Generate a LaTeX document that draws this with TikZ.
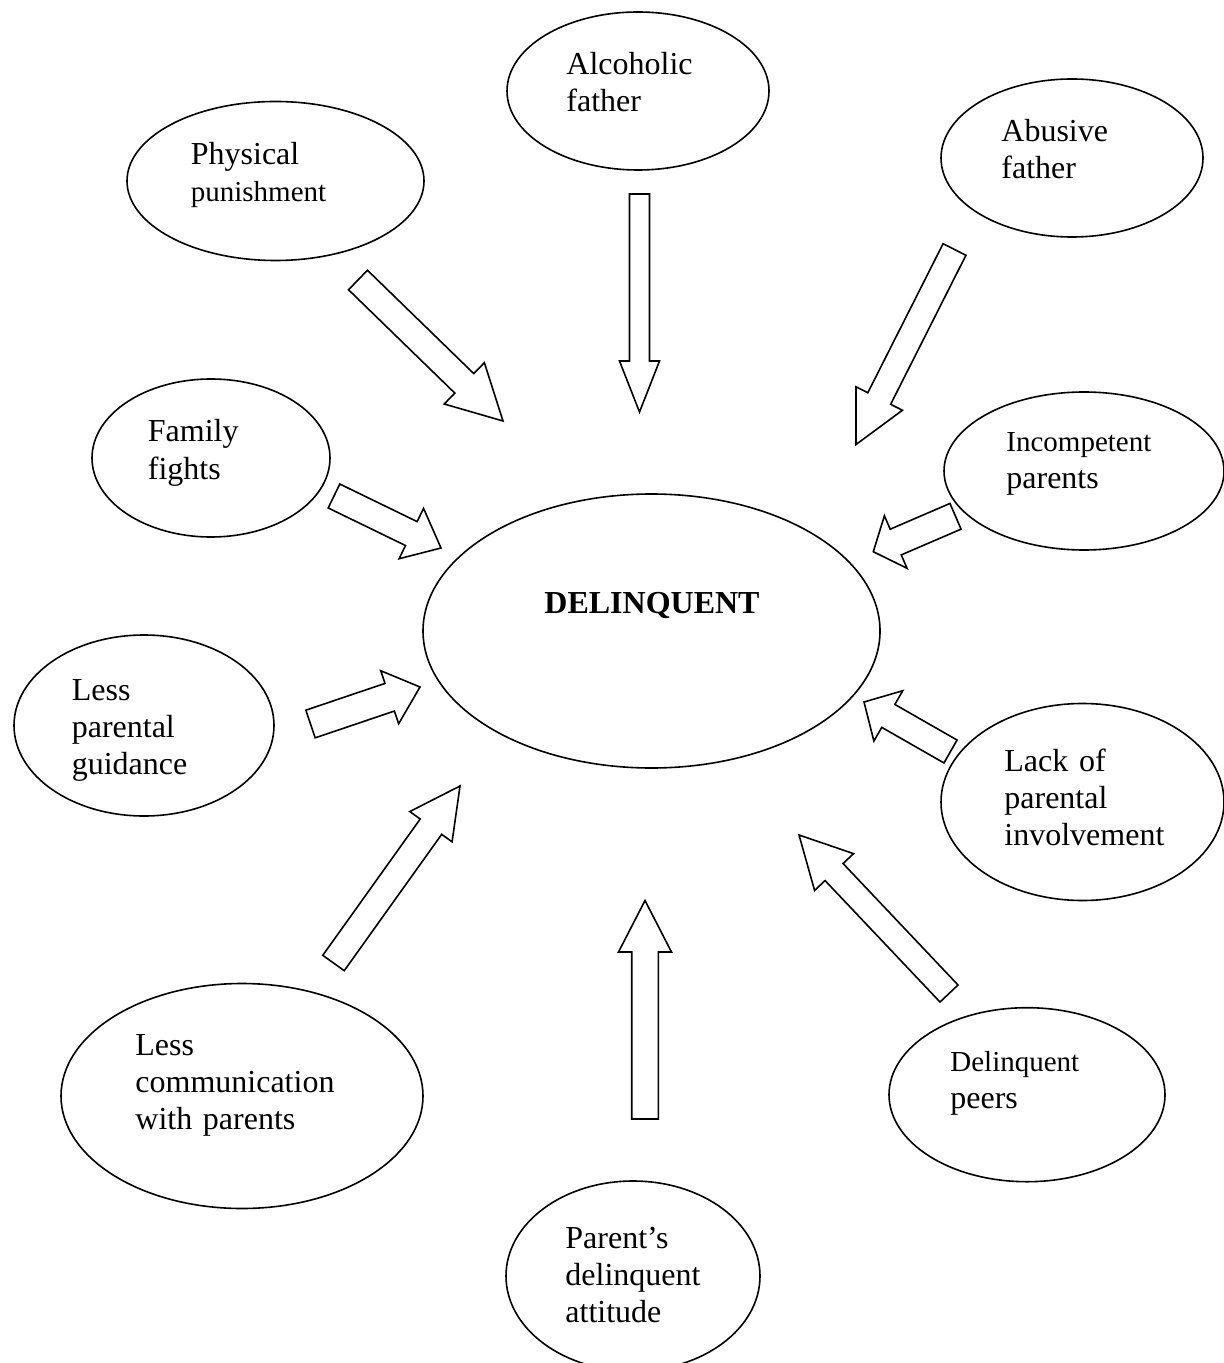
\documentclass[tikz,border=0pt]{standalone}
\usepackage{fontspec}
\setmainfont{Liberation Serif}
\usetikzlibrary{shapes.geometric,calc}

\tikzset{
  bubble/.style={draw, ellipse, line width=0.8pt, inner sep=0pt},
  bubbletext/.style={anchor=base west, align=left, text width=8cm, inner sep=0pt,
    font=\fontsize{16}{18.5}\selectfont},
  arrowbody/.style={draw, line width=0.8pt, line join=miter, fill=white},
}
\newcommand{\smalltext}{\fontsize{14.5}{17.5}\selectfont}
% hollow block arrow: tail, tip, shaft half width, head half width, head length
\newcommand{\blockarrow}[5]{%
  \coordinate (ba-c) at ($(#2)!#5!(#1)$);
  \draw[arrowbody] ($(#1)!#3!90:(#2)$) -- ($(ba-c)!#3!-90:(#1)$)
    -- ($(ba-c)!#4!-90:(#1)$) -- (#2) -- ($(ba-c)!#4!90:(#1)$)
    -- ($(ba-c)!#3!90:(#1)$) -- ($(#1)!#3!-90:(#2)$) -- cycle;}

\begin{document}
\begin{tikzpicture}[x=0.5pt, y=-0.5pt]
  \useasboundingbox (0,0) rectangle (1224,1363);

% centre
  \node [bubble, minimum width=228.5pt, minimum height=137pt] (delinq) at (651.5,631) {};
  \node [bubbletext] (delinq-t) at (544,613.3) {\textbf{DELINQUENT}};

% causes
  \node [bubble, minimum width=131pt, minimum height=79pt] (alc) at (638,91) {};
  \node [bubble, minimum width=148.5pt, minimum height=79.5pt] (phys) at (275.5,181) {};
  \node [bubble, minimum width=131pt, minimum height=79pt] (abus) at (1072,158) {};
  \node [bubble, minimum width=119pt, minimum height=79pt] (fam) at (211,458) {};
  \node [bubble, minimum width=140pt, minimum height=79pt] (incomp) at (1084,471) {};
  \node [bubble, minimum width=130pt, minimum height=90.5pt] (guid) at (144,725.5) {};
  \node [bubble, minimum width=141.5pt, minimum height=98.5pt] (lack) at (1082.5,802) {};
  \node [bubble, minimum width=181pt, minimum height=112.5pt] (comm) at (242,1096) {};
  \node [bubble, minimum width=138pt, minimum height=87pt] (peers) at (1027,1094.7) {};
  \node [bubble, minimum width=127pt, minimum height=95pt] (attit) at (633,1276) {};

  \node [bubbletext] (alc-t) at (566,75) {Alcoholic\\father};
  \node [bubbletext] (phys-t) at (190.5,165) {Physical\\{\smalltext punishment}};
  \node [bubbletext] (abus-t) at (1001,142) {Abusive\\father};
  \node [bubbletext] (fam-t) at (147.5,442) {Family\\fights};
  \node [bubbletext] (incomp-t) at (1006,451.6) {{\smalltext Incompetent}\\parents};
  \node [bubbletext] (guid-t) at (71.4,700) {Less\\parental\\guidance};
  \node [bubbletext] (lack-t) at (1004,771) {Lack of\\parental\\involvement};
  \node [bubbletext] (comm-t) at (135,1055.7) {Less\\communication\\with parents};
  \node [bubbletext] (peers-t) at (950,1071) {{\smalltext Delinquent}\\peers};
  \node [bubbletext] (attit-t) at (565,1248.7) {Parent’s\\delinquent\\attitude};

% arrow ends
  \coordinate (alc-a) at (639.5,194);    \coordinate (alc-b) at (639.5,412);
  \coordinate (phys-a) at (358,280);     \coordinate (phys-b) at (503,421);
  \coordinate (abus-a) at (954.5,249.5); \coordinate (abus-b) at (856,444.5);
  \coordinate (fam-a) at (334,496);      \coordinate (fam-b) at (441,548);
  \coordinate (incomp-a) at (955.5,516.3); \coordinate (incomp-b) at (873.3,551.7);
  \coordinate (guid-a) at (310.5,724);   \coordinate (guid-b) at (420,687);
  \coordinate (lack-a) at (950.5,751.5); \coordinate (lack-b) at (864,702);
  \coordinate (comm-a) at (333.5,963);   \coordinate (comm-b) at (460,786);
  \coordinate (peers-a) at (949,993.5);  \coordinate (peers-b) at (799,835);
  \coordinate (attit-a) at (645,1119);   \coordinate (attit-b) at (645,900.5);

% arrows
  \blockarrow{alc-a}{alc-b}{5pt}{10pt}{25.5pt}
  \blockarrow{phys-a}{phys-b}{6.8pt}{14.4pt}{27pt}
  \blockarrow{abus-a}{abus-b}{6.4pt}{13pt}{25.75pt}
  \blockarrow{fam-a}{fam-b}{6.65pt}{14pt}{16.5pt}
  \blockarrow{incomp-a}{incomp-b}{7pt}{14.3pt}{12.2pt}
  \blockarrow{guid-a}{guid-b}{7.3pt}{14pt}{16pt}
  \blockarrow{lack-a}{lack-b}{6.6pt}{14.5pt}{14pt}
  \blockarrow{comm-a}{comm-b}{6.6pt}{13pt}{25pt}
  \blockarrow{peers-a}{peers-b}{6.2pt}{13.4pt}{25.5pt}
  \blockarrow{attit-a}{attit-b}{6.65pt}{13.25pt}{25.75pt}
\end{tikzpicture}
\end{document}
